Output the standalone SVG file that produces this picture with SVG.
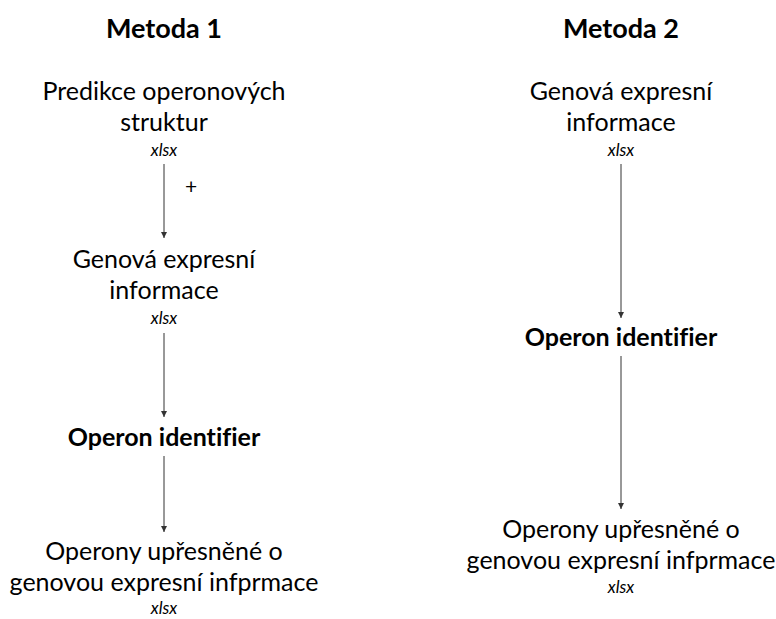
<svg xmlns="http://www.w3.org/2000/svg" width="776" height="619" viewBox="0 0 776 619">
<style>
text{font-family:Lato,"Open Sans","Liberation Sans",sans-serif;fill:#000;text-anchor:middle;font-variant-ligatures:none}
.h{font-size:27px;font-weight:bold}
.t{font-size:25px}
.b{font-size:25px;font-weight:bold}
.x{font-size:17px;font-style:italic}
.c{stroke:#333;stroke-width:1;fill:none;marker-end:url(#ah)}
</style>
<defs>
<marker id="ah" viewBox="0 0 6 6" refX="6" refY="3" markerWidth="6" markerHeight="6" markerUnits="userSpaceOnUse" orient="auto">
<path d="M0,0 L6,3 L0,6 Z" fill="#333"/>
</marker>
</defs>
<rect width="776" height="619" fill="#fff"/>
<g id="title1"><text class="h" x="164" y="38">Metoda 1</text></g>
<g id="title2"><text class="h" x="621" y="38">Metoda 2</text></g>
<g id="n1"><text class="t" x="164" y="100">Predikce operonových</text><text class="t" x="164" y="131">struktur</text><text class="x" x="164" y="156">xlsx</text></g>
<g id="n2"><text class="t" x="164" y="268">Genová expresní</text><text class="t" x="164" y="299">informace</text><text class="x" x="164" y="324">xlsx</text></g>
<g id="n3"><text class="b" x="164" y="446">Operon identifier</text></g>
<g id="n4"><text class="t" x="164" y="560">Operony upřesněné o</text><text class="t" x="164" y="591">genovou expresní infprmace</text><text class="x" x="164" y="614">xlsx</text></g>
<g id="m1"><text class="t" x="621" y="100">Genová expresní</text><text class="t" x="621" y="131">informace</text><text class="x" x="621" y="156">xlsx</text></g>
<g id="m2"><text class="b" x="621" y="346">Operon identifier</text></g>
<g id="m3"><text class="t" x="621" y="538">Operony upřesněné o</text><text class="t" x="621" y="569">genovou expresní infprmace</text><text class="x" x="621" y="593">xlsx</text></g>
<g id="plus"><text class="t" x="191" y="194" style="font-size:21px">+</text></g>
<g id="connectors">
<line class="c" x1="164" y1="164" x2="164" y2="238"/>
<line class="c" x1="164" y1="333" x2="164" y2="417"/>
<line class="c" x1="164" y1="456" x2="164" y2="532"/>
<line class="c" x1="621" y1="164" x2="621" y2="318"/>
<line class="c" x1="621" y1="356" x2="621" y2="509"/>
</g>
</svg>
